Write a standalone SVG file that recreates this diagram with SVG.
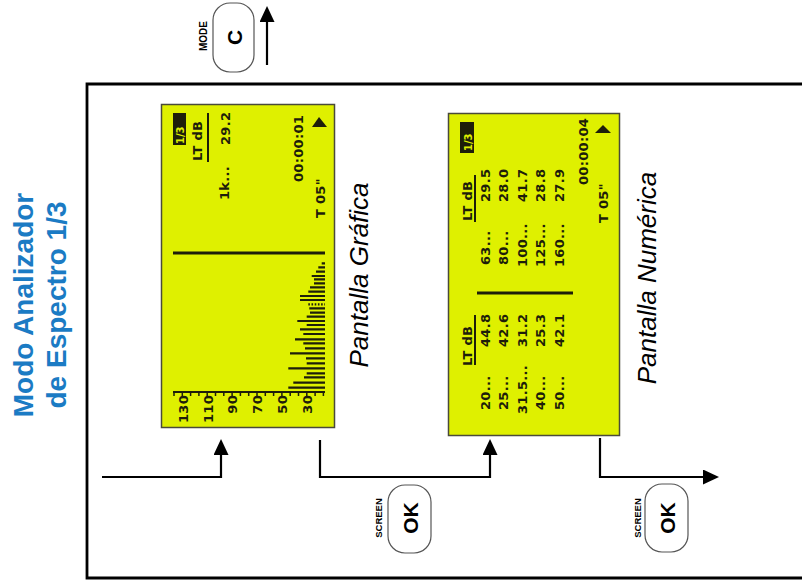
<svg xmlns="http://www.w3.org/2000/svg" width="802" height="586" viewBox="0 0 802 586">
<defs>
<style>
.title{font-family:"Liberation Sans",Arial,sans-serif;font-weight:bold;font-size:28px;fill:#1b7bc4}
.cap{font-family:"Liberation Sans",Arial,sans-serif;font-style:italic;font-size:26px;fill:#000}
.btn{fill:#fff;stroke:#555;stroke-width:1.2}
.bl{font-family:"Liberation Sans",Arial,sans-serif;font-weight:bold;font-size:21px;fill:#000}
.bs{font-family:"Liberation Sans",Arial,sans-serif;font-weight:bold;font-size:9.5px;fill:#000}
.lcd{fill:#dff000;stroke:#4a4a3a;stroke-width:1.5}
.lt{font-family:"DejaVu Sans",sans-serif;font-weight:bold;font-size:13px;letter-spacing:0.3px;fill:#1e1e0a}
.badge{fill:#1e1e0a}
.bt{font-family:"DejaVu Sans",sans-serif;font-weight:bold;font-size:10px;fill:#dff000}
.ln{stroke:#1e1e0a;fill:none}
.conn{stroke:#000;stroke-width:2.2;fill:none}
</style>
<marker id="ah" viewBox="0 0 16 15" refX="12" refY="7.5" markerWidth="16" markerHeight="15" markerUnits="userSpaceOnUse" orient="auto">
<path d="M0,0 L16,7.5 L0,15 z" fill="#000"/>
</marker>
</defs>
<rect width="802" height="586" fill="#fff"/>

<g id="frame"><path d="M802 84 H87 V578 H802" fill="none" stroke="#000" stroke-width="2.8"/></g>

<g id="title">
<text class="title" transform="translate(33,305) rotate(-90)" text-anchor="middle">Modo Analizador</text>
<text class="title" transform="translate(66,305) rotate(-90)" text-anchor="middle">de Espectro 1/3</text>
</g>

<g id="mode-button">
<rect class="btn" x="213" y="3" width="41" height="69" rx="17"/>
<text class="bl" transform="translate(241.5,37.5) rotate(-90)" text-anchor="middle">C</text>
<text class="bs" transform="translate(207,36) rotate(-90)" text-anchor="middle" style="font-size:10px">MODE</text>
</g>

<g id="screen-grafica">
<rect class="lcd" x="161.5" y="104.5" width="173" height="323"/>
<rect class="badge" x="173" y="113" width="13" height="32"/>
<text class="bt" transform="translate(183.5,144) rotate(-90)">1/3</text>
<text class="lt" transform="translate(202,161) rotate(-90)">LT dB</text>
<path class="ln" d="M208 113 V162" stroke-width="2"/>
<text class="lt" transform="translate(230,145) rotate(-90)">29.2</text>
<text class="lt" transform="translate(229,200) rotate(-90)">1k...</text>
<text class="lt" transform="translate(303,182) rotate(-90)">00:00:01</text>
<text class="lt" transform="translate(325,218) rotate(-90)">T 05"</text>
<polygon points="319,117 312,127 327,127" fill="#1e1e0a"/>
<path class="ln" d="M173 253 H325" stroke-width="3"/>
<path class="ln" d="M173 392 H325" stroke-width="2"/>
<path class="ln" stroke-width="1.5" d="M174 392v4M182.3 392v4M190.6 392v4M198.9 392v4M207.2 392v4M215.5 392v4M223.8 392v4M232.1 392v4M240.4 392v4M248.7 392v4M257 392v4M265.3 392v4M273.6 392v4M281.9 392v4M290.2 392v4M298.5 392v4M306.8 392v4M315.1 392v4M323.4 392v4"/>
<text class="lt" transform="translate(188,395) rotate(-90)" text-anchor="end">130</text>
<text class="lt" transform="translate(212.5,395) rotate(-90)" text-anchor="end">110</text>
<text class="lt" transform="translate(237,395) rotate(-90)" text-anchor="end">90</text>
<text class="lt" transform="translate(262,395) rotate(-90)" text-anchor="end">70</text>
<text class="lt" transform="translate(287,395) rotate(-90)" text-anchor="end">50</text>
<text class="lt" transform="translate(311.5,395) rotate(-90)" text-anchor="end">30</text>
<path class="ln" stroke-width="2.2" d="M321.7 263.3H325M318.3 267.3H325M316 271.7H325M311.7 276H325M314 279.3H325M314 283.3H325M310 287.3H325M308.3 291.7H325M300 296H325M300 300H325M309.3 308.3H325M310 312.7H325M306.7 316.7H325M297.3 321H325M306.7 325H325M300 329.3H325M303.3 334H325M295 339.3H325M303.3 343.3H325M305 348.3H325M290 353.3H325M306 358.3H325M306.7 363.3H325M288.3 368.3H325M306.7 373.3H325M304 377.3H325M293.3 382.7H325M288.3 387.7H325"/>
<path class="ln" stroke-width="2.2" stroke-dasharray="1.6 1.6" d="M308.3 304.3H325"/>
</g>

<g id="screen-numerica">
<rect class="lcd" x="448.5" y="113.5" width="171" height="322"/>
<rect class="badge" x="460" y="122" width="14" height="31"/>
<text class="bt" transform="translate(471.5,151) rotate(-90)">1/3</text>
<text class="lt" transform="translate(472,221) rotate(-90)">LT dB</text>
<path class="ln" d="M475 175 V222" stroke-width="2"/>
<text class="lt" transform="translate(490,202) rotate(-90)">29.5</text>
<text class="lt" transform="translate(507.5,202) rotate(-90)">28.0</text>
<text class="lt" transform="translate(526.5,202) rotate(-90)">41.7</text>
<text class="lt" transform="translate(545,202) rotate(-90)">28.8</text>
<text class="lt" transform="translate(564,202) rotate(-90)">27.9</text>
<text class="lt" transform="translate(490,265) rotate(-90)">63...</text>
<text class="lt" transform="translate(507.5,265) rotate(-90)">80...</text>
<text class="lt" transform="translate(526.5,267) rotate(-90)">100...</text>
<text class="lt" transform="translate(545,267) rotate(-90)">125...</text>
<text class="lt" transform="translate(564,267) rotate(-90)">160...</text>
<text class="lt" transform="translate(588,185) rotate(-90)">00:00:04</text>
<text class="lt" transform="translate(608,223) rotate(-90)">T 05"</text>
<polygon points="603,125 595,133 611,133" fill="#1e1e0a"/>
<path class="ln" d="M477 293 H573" stroke-width="3"/>
<text class="lt" transform="translate(472,366) rotate(-90)">LT dB</text>
<path class="ln" d="M475 315 V365" stroke-width="2"/>
<text class="lt" transform="translate(490,347) rotate(-90)">44.8</text>
<text class="lt" transform="translate(507.5,347) rotate(-90)">42.6</text>
<text class="lt" transform="translate(526.5,347) rotate(-90)">31.2</text>
<text class="lt" transform="translate(545,347) rotate(-90)">25.3</text>
<text class="lt" transform="translate(564,347) rotate(-90)">42.1</text>
<text class="lt" transform="translate(490,410) rotate(-90)">20...</text>
<text class="lt" transform="translate(507.5,410) rotate(-90)">25...</text>
<text class="lt" transform="translate(526.5,414) rotate(-90)">31.5...</text>
<text class="lt" transform="translate(545,410) rotate(-90)">40...</text>
<text class="lt" transform="translate(564,410) rotate(-90)">50...</text>
</g>

<g id="caption-grafica"><text class="cap" transform="translate(368,275) rotate(-90)" text-anchor="middle">Pantalla Gráfica</text></g>
<g id="caption-numerica"><text class="cap" transform="translate(656,278) rotate(-90)" text-anchor="middle">Pantalla Numérica</text></g>

<g id="ok-button-1">
<rect class="btn" x="388" y="485" width="43" height="68" rx="17"/>
<text class="bl" transform="translate(417.5,518) rotate(-90)" text-anchor="middle">OK</text>
<text class="bs" transform="translate(382,518) rotate(-90)" text-anchor="middle">SCREEN</text>
</g>
<g id="ok-button-2">
<rect class="btn" x="645" y="484" width="43" height="68" rx="17"/>
<text class="bl" transform="translate(674.5,518) rotate(-90)" text-anchor="middle">OK</text>
<text class="bs" transform="translate(641,518) rotate(-90)" text-anchor="middle">SCREEN</text>
</g>

<g id="connectors">
<path class="conn" d="M102 477 H221 V443" marker-end="url(#ah)"/>
<path class="conn" d="M320 440 V477 H490 V443" marker-end="url(#ah)"/>
<path class="conn" d="M600 438 V477 H715" marker-end="url(#ah)"/>
<path class="conn" d="M267 65 V10" marker-end="url(#ah)"/>
</g>
</svg>
